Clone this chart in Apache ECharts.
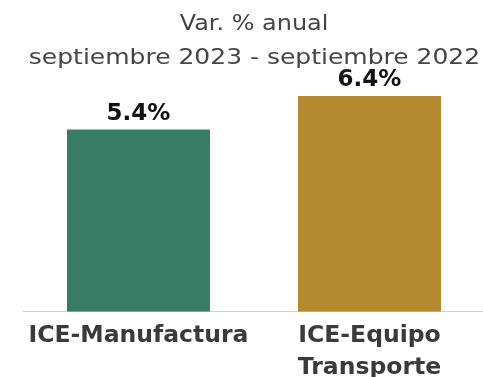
<!DOCTYPE html>
<html>
<head>
<meta charset="utf-8">
<style>
  html, body { margin: 0; padding: 0; background: #ffffff; }
  #chart { width: 483px; height: 377px; }
</style>
<script src="https://cdn.jsdelivr.net/npm/echarts@6/dist/echarts.min.js"></script>
</head>
<body>
<div id="chart"></div>
<script>
// Annual percentage change, September 2023 vs September 2022
const categories = ['ICE-Manufactura', 'ICE-Equipo\nTransporte'];
const values = [5.4, 6.4];
const barColors = ['#387c65', '#b58a2f'];
const titleLines = ['Var. % anual', 'septiembre 2023 - septiembre 2022'];

const FONT = '"DejaVu Sans", sans-serif';

const chart = echarts.init(document.getElementById('chart'), null, { renderer: 'canvas' });

// Heading lines, slightly widened for a broader typeface look
const titleStyle = (text) => ({
  text: text,
  fontFamily: FONT,
  fontSize: 21,
  fontWeight: 'normal',
  fill: '#454545',
  align: 'center',
  verticalAlign: 'middle'
});

chart.setOption({
  animation: false,
  backgroundColor: '#ffffff',
  graphic: [
    { type: 'text', x: 254, y: 24.5, scaleX: 1.14, style: titleStyle(titleLines[0]) },
    { type: 'text', x: 254.5, y: 59, scaleX: 1.19, style: titleStyle(titleLines[1]) }
  ],
  grid: {
    left: 23, width: 462, top: 42, bottom: 65.5,
    containLabel: false,
    outerBoundsMode: 'none'
  },
  xAxis: {
    type: 'category',
    data: categories,
    axisLine: { show: true, lineStyle: { color: '#cfcfcf', width: 1 } },
    axisTick: { show: false },
    axisLabel: {
      interval: 0,
      margin: 8,
      fontFamily: FONT,
      fontSize: 23.5,
      fontWeight: 'bold',
      color: '#3a3a3a',
      lineHeight: 32
    }
  },
  yAxis: {
    type: 'value',
    min: 0,
    max: 8,
    show: false,
    splitLine: { show: false }
  },
  series: [{
    type: 'bar',
    barWidth: 143,
    data: values.map((v, i) => ({ value: v, itemStyle: { color: barColors[i] } })),
    label: {
      show: true,
      position: 'top',
      distance: 4,
      formatter: p => p.value.toFixed(1) + '%',
      fontFamily: FONT,
      fontSize: 23,
      fontWeight: 'bold',
      color: '#111111'
    }
  }]
});
</script>
</body>
</html>
